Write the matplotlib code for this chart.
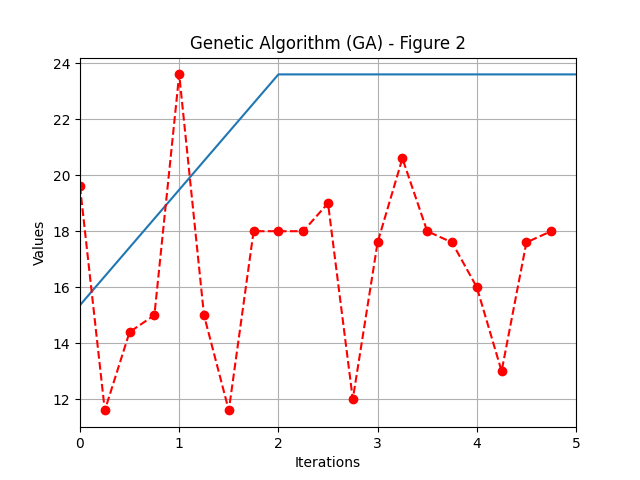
import numpy as np
import matplotlib
matplotlib.use("Agg")
import matplotlib.pyplot as plt

# sampled values (red dashed series)
iterations = [0, 0.25, 0.5, 0.75, 1, 1.25, 1.5, 1.75, 2, 2.25,
              2.5, 2.75, 3, 3.25, 3.5, 3.75, 4, 4.25, 4.5, 4.75]
values = [19.6, 11.6, 14.4, 15.0, 23.6, 15.0, 11.6, 18.0, 18.0, 18.0,
          19.0, 12.0, 17.6, 20.6, 18.0, 17.6, 16.0, 13.0, 17.6, 18.0]

# trend line (blue)
trend_x = [0, 2, 5]
trend_y = [15.36, 23.6, 23.6]

fig, ax = plt.subplots(figsize=(6.4, 4.8), dpi=100)
ax.plot(trend_x, trend_y)
ax.plot(iterations, values, "ro--")
ax.set_xlim(0, 5)
ax.set_title("Genetic Algorithm (GA) - Figure 2")
ax.set_xlabel("Iterations")
ax.set_ylabel("Values")
ax.grid(True)
fig.savefig("out.png")
